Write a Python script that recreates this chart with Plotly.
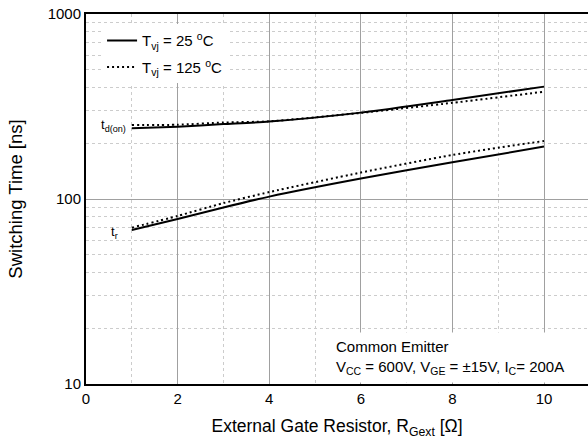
import math
import plotly.graph_objects as go

# Data
r_gate = [1, 2, 3, 4, 6, 8, 10]
td_on_25 = [241, 246, 254, 262, 293, 343, 405]
td_on_125 = [251, 252, 259, 263, 292, 331, 380]
tr_25 = [68, 78, 90, 103, 129, 158, 192]
tr_125 = [70, 81, 95, 109, 139, 173, 206]

x_ticks = [0, 2, 4, 6, 8, 10]
y_ticks = [10, 100, 1000]

FONT = "Liberation Sans, Arial, sans-serif"

fig = go.Figure()

solid = dict(color="black", width=2, shape="spline", smoothing=0.6)
dotted = dict(color="black", width=2, dash="2px,3px", shape="spline", smoothing=0.6)

fig.add_trace(go.Scatter(x=r_gate, y=td_on_25, mode="lines", line=solid,
                         name="T<sub>vj</sub> = 25 <sup>o</sup>C", legendgroup="a"))
fig.add_trace(go.Scatter(x=r_gate, y=td_on_125, mode="lines", line=dotted,
                         name="T<sub>vj</sub> = 125 <sup>o</sup>C", legendgroup="b"))
fig.add_trace(go.Scatter(x=r_gate, y=tr_25, mode="lines", line=solid,
                         showlegend=False, legendgroup="a"))
fig.add_trace(go.Scatter(x=r_gate, y=tr_125, mode="lines", line=dotted,
                         showlegend=False, legendgroup="b"))

# curve labels (log axis: annotation y in log10 units)
fig.add_annotation(x=r_gate[0], y=math.log10(td_on_25[0]), xref="x", yref="y",
                   text="t<sub>d(on)</sub>", showarrow=False,
                   xanchor="right", yanchor="middle", xshift=-4, yshift=3,
                   font=dict(size=13, color="black", family=FONT))
fig.add_annotation(x=r_gate[0], y=math.log10(tr_25[0]), xref="x", yref="y",
                   text="t<sub>r</sub>", showarrow=False,
                   xanchor="right", yanchor="middle", xshift=-12, yshift=-3,
                   font=dict(size=13, color="black", family=FONT))

fig.add_annotation(x=1.0, y=0.0, xref="paper", yref="paper",
                   text="Common Emitter<br>V<sub>CC</sub> = 600V, V<sub>GE</sub> = ±15V, I<sub>C</sub>= 200A",
                   showarrow=False, xanchor="right", yanchor="bottom", align="left",
                   bgcolor="white", borderpad=5, xshift=-18, yshift=1,
                   font=dict(size=15, color="black", family=FONT))

fig.update_layout(
    width=588, height=441,
    margin=dict(l=86, r=0, t=14, b=57),
    paper_bgcolor="white", plot_bgcolor="white",
    font=dict(family=FONT, color="black", size=15),
    showlegend=True,
    legend=dict(x=0.032, y=0.972, xanchor="left", yanchor="top",
                bgcolor="white", borderwidth=0,
                font=dict(size=15, color="black", family=FONT),
                tracegroupgap=4, itemwidth=30),
)

fig.update_xaxes(
    range=[0, 10.96], tickvals=x_ticks, ticktext=[str(v) for v in x_ticks],
    showline=True, linecolor="black", linewidth=2, mirror=True,
    showgrid=True, gridcolor="#a0a0a0", gridwidth=1,
    zeroline=False, ticks="",
    tickfont=dict(size=15, family=FONT, color="black"),
    minor=dict(dtick=1, tick0=0, showgrid=True, gridcolor="#cccccc", griddash="dot", gridwidth=1),
    title=dict(text="External Gate Resistor, R<sub>Gext</sub> [Ω]",
               font=dict(size=17.5, family=FONT, color="black"), standoff=14),
)

fig.update_yaxes(
    type="log", range=[1, 3], tickvals=y_ticks, ticktext=[str(v) for v in y_ticks],
    showline=True, linecolor="black", linewidth=2, mirror=False,
    showgrid=True, gridcolor="#a0a0a0", gridwidth=1,
    zeroline=False, ticks="",
    tickfont=dict(size=15, family=FONT, color="black"),
    minor=dict(dtick="D1", showgrid=True, gridcolor="#cccccc", griddash="dot", gridwidth=1),
    title=dict(text="Switching Time [ns]",
               font=dict(size=18.5, family=FONT, color="black"), standoff=20),
)

fig.write_html("out.html")
